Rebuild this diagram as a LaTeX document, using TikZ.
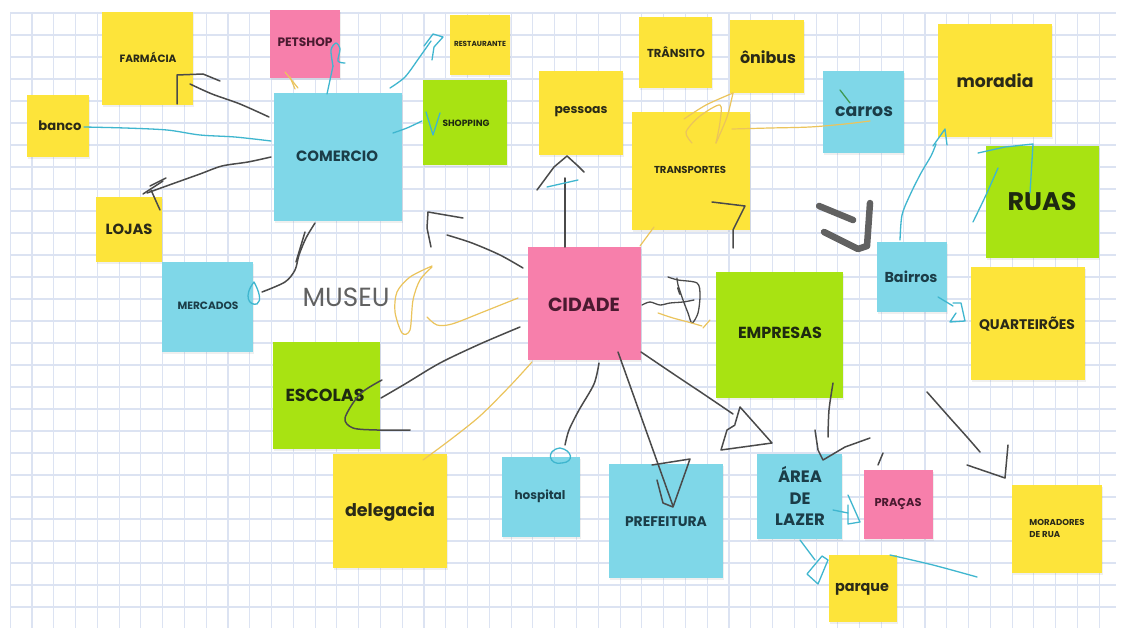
\documentclass[tikz,border=0pt]{standalone}
\usepackage{graphicx}
\usepackage{fontspec}
\usetikzlibrary{shadows}
\setmainfont{Poppins}
\definecolor{ylw}{HTML}{FDE43A}
\definecolor{blu}{HTML}{7FD7E8}
\definecolor{pnk}{HTML}{F77FAB}
\definecolor{grn}{HTML}{A8E312}
\definecolor{gridc}{HTML}{DCE3F2}
\definecolor{tY}{HTML}{2A2A18}
\definecolor{tB}{HTML}{1B3D48}
\definecolor{tP}{HTML}{4A1A30}
\definecolor{tG}{HTML}{1E2A10}
\definecolor{penG}{HTML}{4A4A4A}
\definecolor{penC}{HTML}{3FB6CF}
\definecolor{penO}{HTML}{EBC45C}
\definecolor{penV}{HTML}{3E9A55}
\newcommand\fitw[2]{\resizebox{#1pt}{!}{\bfseries #2}}
\tikzset{
  note/.style={anchor=north west, inner sep=0, draw=none,
    drop shadow={opacity=0.12, shadow xshift=1pt, shadow yshift=-1.5pt}},
  txt/.style={inner sep=0},
  gline/.style={draw=penG, line width=1.5pt, line cap=round, line join=round},
  cline/.style={draw=penC, line width=1.3pt, line cap=round, line join=round},
  oline/.style={draw=penO, line width=1.2pt, line cap=round, line join=round},
}
\begin{document}
\begin{tikzpicture}[x=1pt,y=-1pt]
\useasboundingbox (0,0) rectangle (1123,628);
\fill[white] (0,0) rectangle (1123,628);
% grid
\foreach \i in {0,...,50} \draw[gridc, line width=1.1pt] ({10.2+21.78*\i},12) -- ({10.2+21.78*\i},628);
\foreach \j in {0,...,27} \draw[gridc, line width=1.1pt] (10,{13+22*\j}) -- (1116,{13+22*\j});

% notes
\node[note, fill=ylw, minimum width=91pt, minimum height=93pt] (farm) at (102,12) {};
\node[note, fill=pnk, minimum width=70pt, minimum height=68pt] (pet) at (270,10) {};
\node[note, fill=ylw, minimum width=62pt, minimum height=62pt] (banco) at (27,95) {};
\node[note, fill=blu, minimum width=128pt, minimum height=128pt] (comercio) at (274,93) {};
\node[note, fill=ylw, minimum width=66pt, minimum height=65pt] (lojas) at (96,197) {};
\node[note, fill=blu, minimum width=91pt, minimum height=90pt] (mercados) at (162,262) {};
\node[note, fill=ylw, minimum width=60pt, minimum height=60pt] (rest) at (450,15) {};
\node[note, fill=grn, minimum width=84pt, minimum height=85pt] (shopping) at (423,80) {};
\node[note, fill=ylw, minimum width=84pt, minimum height=84pt] (pessoas) at (539,71) {};
\node[note, fill=ylw, minimum width=73pt, minimum height=71pt] (transito) at (639,17) {};
\node[note, fill=ylw, minimum width=74pt, minimum height=73pt] (onibus) at (730,20) {};
\node[note, fill=ylw, minimum width=118pt, minimum height=118pt] (transp) at (632,112) {};
\node[note, fill=pnk, minimum width=113pt, minimum height=113pt] (cidade) at (528,247) {};
\node[note, fill=blu, minimum width=81pt, minimum height=82pt] (carros) at (823,71) {};
\node[note, fill=ylw, minimum width=114pt, minimum height=113pt] (moradia) at (938,24) {};
\node[note, fill=grn, minimum width=113pt, minimum height=112pt] (ruas) at (986,146) {};
\node[note, fill=blu, minimum width=70pt, minimum height=70pt] (bairros) at (877,242) {};
\node[note, fill=ylw, minimum width=114pt, minimum height=113pt] (quart) at (971,267) {};
\node[note, fill=grn, minimum width=107pt, minimum height=107pt] (escolas) at (273,342) {};
\node[note, fill=ylw, minimum width=114pt, minimum height=114pt] (deleg) at (333,454) {};
\node[note, fill=blu, minimum width=78pt, minimum height=80pt] (hosp) at (502,457) {};
\node[note, fill=blu, minimum width=114pt, minimum height=114pt] (pref) at (609,464) {};
\node[note, fill=blu, minimum width=85pt, minimum height=85pt] (area) at (757,454) {};
\node[note, fill=grn, minimum width=127pt, minimum height=126pt] (empr) at (716,272) {};
\node[note, fill=pnk, minimum width=69pt, minimum height=69pt] (pracas) at (864,470) {};
\node[note, fill=ylw, minimum width=90pt, minimum height=88pt] (morad) at (1012,485) {};
\node[note, fill=ylw, minimum width=68pt, minimum height=67pt] (parque) at (829,555) {};

% texts
\node[txt, text=tY] (farmT) at (148,57) {\fitw{57}{FARMÁCIA}};
\node[txt, text=tP] (petT) at (305,42) {\fitw{55}{PETSHOP}};
\node[txt, text=tY] (bancoT) at (60,126) {\fitw{43}{banco}};
\node[txt, text=tB] (comT) at (337,156) {\fitw{82}{COMERCIO}};
\node[txt, text=tY] (lojasT) at (129,229) {\fitw{47}{LOJAS}};
\node[txt, text=tB] (mercT) at (208,306) {\fitw{61}{MERCADOS}};
\node[txt, text=tY] (restT) at (480,44) {\fitw{52}{RESTAURANTE}};
\node[txt, text=tG] (shopT) at (466,123) {\fitw{47}{SHOPPING}};
\node[txt, text=tY] (pessT) at (581,112) {\fitw{53}{pessoas}};
\node[txt, text=tY] (tranT) at (676,52) {\fitw{58}{TRÂNSITO}};
\node[txt, text=tY] (onibT) at (768,57) {\fitw{56}{ônibus}};
\node[txt, text=tY] (trspT) at (690,170) {\fitw{72}{TRANSPORTES}};
\node[txt, text=tP] (cidT) at (584,305) {\fitw{72}{CIDADE}};
\node[txt, text=tB] (carT) at (864,112) {\fitw{58}{carros}};
\node[txt, text=tY] (morT) at (995,81) {\fitw{77}{moradia}};
\node[txt, text=tG] (ruasT) at (1042,202) {\fitw{69}{RUAS}};
\node[txt, text=tB] (bairT) at (911,277) {\fitw{53}{Bairros}};
\node[txt, text=tY] (quarT) at (1027,324) {\fitw{96}{QUARTEIRÕES}};
\node[txt, text=tG] (escT) at (325,395) {\fitw{79}{ESCOLAS}};
\node[txt, text=tY] (delT) at (390,512) {\fitw{90}{delegacia}};
\node[txt, text=tB] (hospT) at (540,496) {\fitw{51}{hospital}};
\node[txt, text=tB] (prefT) at (666,522) {\fitw{82}{PREFEITURA}};
\node[txt, text=tG] (empT) at (780,333) {\fitw{84}{EMPRESAS}};
\node[txt, text=tP] (pracT) at (898,504) {\fitw{47}{PRAÇAS}};
\node[txt, text=tY] (parqT) at (862,589) {\fitw{54}{parque}};
\node[txt, text=tB, align=center, font=\bfseries\fontsize{16.5}{21.5}\selectfont] (areaT) at (800,496) {ÁREA\\DE\\LAZER};
\node[txt, text=tY, align=left, font=\bfseries\fontsize{8.6}{12}\selectfont] (moraT) at (1057,528) {MORADORES\\DE RUA};
\node[txt, text=black!62] (museu) at (346,297) {\resizebox{87pt}{!}{MUSEU}};

% ---- hand drawn strokes ----
% farmacia - comercio
\draw[gline] plot[smooth] coordinates {(269,117) (240,104) (212,94) (190,84)};
\draw[gline] (177,104) -- (177,75) -- (203,74) -- (220,81);
% banco - comercio
\draw[cline] plot[smooth] coordinates {(84,127) (125,128) (167,130) (200,135) (235,137) (271,141)};
% lojas - comercio
\draw[gline] plot[smooth] coordinates {(271,157) (248,162) (222,166) (200,174) (172,184) (147,193)};
\draw[gline] (143,194) -- (163,181);
\draw[gline] (150,186) -- (166,178);
\draw[gline] (151,190) -- (160,210);
% comercio - mercados
\draw[gline] plot[smooth] coordinates {(315,223) (306,238) (299,255) (295,270) (285,282) (262,292)};
\draw[gline] (305,232) -- (296,262);
\draw[cline] (254,282) .. controls (243,296) and (249,306) .. (257,304) .. controls (262,301) and (259,291) .. (254,282);
% petshop
\draw[cline] plot[smooth] coordinates {(327,94) (330,80) (333,66)};
\draw[cline] plot[smooth] coordinates {(333,66) (331,50) (336,43) (340,49) (338,61) (345,63)};
\draw[oline] (285,72) -- (298,88);
\draw[oline] (290,77) -- (295,89);
% restaurante
\draw[cline] plot[smooth] coordinates {(390,88) (405,77) (419,58) (431,41)};
\draw[cline] (424,46) -- (433,34) -- (443,37) -- (434,47) -- (432,60);
% shopping
\draw[cline] plot[smooth] coordinates {(393,133) (407,128) (422,121)};
\draw[cline] (426,112) -- (433,135) -- (440,113);
% cidade - comercio
\draw[gline] plot[smooth] coordinates {(523,268) (500,255) (472,243) (447,235)};
\draw[gline] (431,247) -- (427,228) -- (428,212) -- (463,218);
% cidade - pessoas
\draw[gline] (565,247) -- (565,178);
\draw[gline] (537,190) -- (554,167) -- (567,156) -- (578,166) -- (584,172);
\draw[cline] (547,187) -- (578,180);
% transportes
\draw[oline] (640,246) -- (654,227);
\draw[gline] (712,202) -- (745,206) -- (733,230) -- (733,248);
\draw[oline] plot[smooth] coordinates {(684,119) (706,105) (733,93)};
\draw[oline] plot[smooth] coordinates {(692,143) (686,132) (700,116) (720,105) (720,122) (716,143)};
\draw[oline] plot[smooth] coordinates {(716,143) (727,117) (733,93)};
\draw[oline] plot[smooth] coordinates {(732,129) (770,128) (810,127) (845,124) (870,121)};
% carros
\draw[penV, line width=1.3pt, line cap=round] (840,90) -- (850,103);
% bairros - moradia
\draw[cline] plot[smooth] coordinates {(900,240) (902,215) (910,195) (921,173) (931,156) (936,144)};
\draw[cline] (933,146) -- (945,129) -- (947,145);
% ruas - moradia
\draw[cline] (978,153) -- (1005,147) -- (1033,144) -- (1030,193);
\draw[cline] plot[smooth] coordinates {(973,222) (986,195) (998,168)};
% bairros - quarteiroes
\draw[cline] (938,297) -- (953,306);
\draw[cline] (953,303) -- (961,303) -- (965,321) -- (950,322) -- (956,313);
% thick mark
\draw[draw=black!62, line width=6.5pt, line cap=round] (819,206) -- (853,220);
\draw[draw=black!62, line width=6.5pt, line cap=round, line join=round] (824,232) -- (858,249) -- (867,246) -- (870,203);
% cidade - empresas
\draw[gline, line width=1.3pt] plot[smooth] coordinates {(642,305) (650,302) (660,305) (670,303) (683,302) (694,300)};
\draw[gline, line width=1.3pt] plot[smooth] coordinates {(668,277) (678,280) (697,283) (700,295) (698,313) (692,323) (688,313) (683,300) (678,285) (677,278)};
\draw[gline, line width=2pt] (678,288) -- (680,294);
\draw[oline] plot[smooth] coordinates {(658,313) (673,318) (688,322) (702,326)};
\draw[oline] (703,328) -- (710,320);
% cidade - area
\draw[gline] plot[smooth] coordinates {(641,352) (675,375) (705,395) (733,414)};
\draw[gline] (735,424) -- (740,407) -- (772,443) -- (721,450) -- (727,430) -- (735,425);
% cidade - prefeitura
\draw[gline] (618,352) -- (673,506);
\draw[gline] (652,465) -- (690,459) -- (673,507) -- (663,503) -- (657,480);
% cidade - hospital
\draw[gline] plot[smooth] coordinates {(599,363) (594,384) (579,410) (569,430) (565,445)};
\draw[cline] (560,448) .. controls (545,450) and (549,466) .. (562,463) .. controls (575,462) and (572,450) .. (560,448);
% cidade - escolas
\draw[gline] plot[smooth] coordinates {(520,327) (480,344) (440,363) (405,384) (381,398)};
\draw[gline] plot[smooth] coordinates {(382,380) (360,394) (345,418) (353,428) (377,430) (410,430)};
% cidade - delegacia
\draw[oline] plot[smooth] coordinates {(532,362) (510,386) (480,416) (450,440) (423,460)};
% cidade - museu
\draw[oline] plot[smooth] coordinates {(518,298) (483,312) (452,324) (437,325) (427,317)};
\draw[oline] plot[smooth] coordinates {(432,266) (410,277) (397,292) (395,312) (402,333) (410,330) (413,300) (420,280) (432,267)};
% empresas - area
\draw[gline] plot[smooth] coordinates {(833,383) (829,410) (828,437)};
\draw[gline] (815,430) -- (818,450) -- (823,460) -- (845,447) -- (870,438);
\draw[gline] (883,453) -- (878,465);
% quarteiroes - moradores
\draw[gline] plot[smooth] coordinates {(927,392) (950,418) (967,437) (980,452)};
\draw[gline] (967,465) -- (1005,478) -- (1008,445);
% area - pracas
\draw[cline] (833,510) -- (848,513);
\draw[cline] (848,495) -- (860,522) -- (848,524) -- (848,505);
% area - parque
\draw[cline] (800,540) -- (815,560);
\draw[cline] (822,556) -- (807,574) -- (818,584) -- (828,560) -- (822,556);
% parque right
\draw[cline] plot[smooth] coordinates {(890,555) (933,565) (977,577)};
\end{tikzpicture}
\end{document}
